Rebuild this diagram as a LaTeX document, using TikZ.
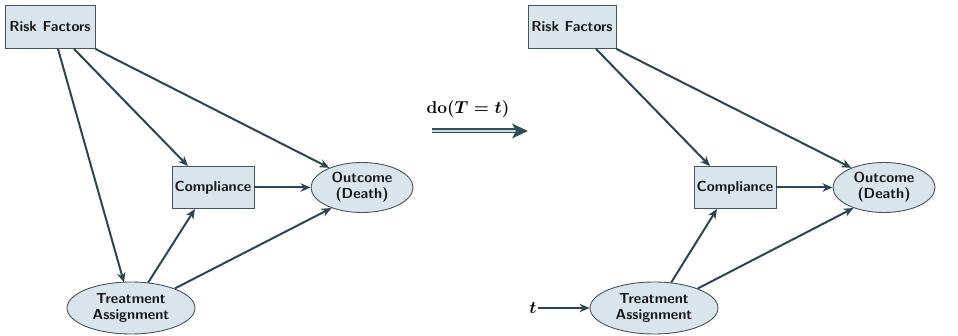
\documentclass[tikz,border=0pt]{standalone}
\usetikzlibrary{arrows.meta,shapes.geometric,calc}
\definecolor{nodefill}{HTML}{D9E4EB}
\definecolor{nodeedge}{HTML}{44555C}
\definecolor{arrowcol}{HTML}{2D4550}
\definecolor{dblcol}{HTML}{2F5058}
\begin{document}
\begin{tikzpicture}[x=1pt,y=-1pt,
  lbl/.style={font=\sffamily\bfseries\fontsize{14.5}{16}\selectfont, text=black!90},
  mathlbl/.style={font=\boldmath\fontsize{18}{20}\selectfont, inner sep=1pt},
  boxnode/.style={lbl, draw=nodeedge, fill=nodefill, line width=0.9pt, inner sep=0pt},
  ellnode/.style={lbl, ellipse, draw=nodeedge, fill=nodefill, line width=0.9pt, inner sep=0pt, align=center},
  conn/.style={draw=arrowcol, line width=2pt, -{Stealth[length=10pt,width=8.5pt]}}]
\useasboundingbox (0,0) rectangle (958,336);
% left diagram
\node[boxnode, minimum width=90, minimum height=43] (rf1) at (50,27) {Risk Factors};
\node[boxnode, minimum width=82, minimum height=42] (c1) at (213,187.5) {Compliance};
\node[ellnode, minimum width=102, minimum height=50] (o1) at (362,187.5) {Outcome\\(Death)};
\node[ellnode, minimum width=128, minimum height=52] (t1) at (131,308) {Treatment\\Assignment};
\draw[conn] ($(rf1.south)+(8,0)$) -- ($(t1.north)+(-7,1)$);
\draw[conn] ($(rf1.south)+(24,0)$) -- ($(c1.north)+(-25,0)$);
\draw[conn] (rf1.south east) -- (o1.149);
\draw[conn] (c1.east) -- (o1.west);
\draw[conn] (t1.56) -- ($(c1.south)+(-18,0)$);
\draw[conn] (t1.24) -- (o1.214);
% middle
\coordinate (m1) at (432,131);
\coordinate (m2) at (528,131);
\node[mathlbl] (dolbl) at (468,109) {$\mathrm{do}(T=t)$};
\draw[draw=dblcol, line width=1.6pt, double=white!80!dblcol, double distance=1.8pt]
  (m1) -- ($(m2)+(-10,0)$);
\fill[dblcol] (m2) -- ++(-16,-7.5) -- ++(4,7.5) -- ++(-4,7.5) -- cycle;
% right diagram
\node[boxnode, minimum width=88, minimum height=43] (rf2) at (572,27) {Risk Factors};
\node[boxnode, minimum width=82, minimum height=42] (c2) at (735,187.5) {Compliance};
\node[ellnode, minimum width=102, minimum height=50] (o2) at (884,187.5) {Outcome\\(Death)};
\node[ellnode, minimum width=128, minimum height=52] (t2) at (654,308) {Treatment\\Assignment};
\node[mathlbl] (tin) at (533,308) {$t$};
\draw[conn] ($(rf2.south)+(24,0)$) -- ($(c2.north)+(-25,0)$);
\draw[conn] (rf2.south east) -- (o2.149);
\draw[conn] (c2.east) -- (o2.west);
\draw[conn] (t2.56) -- ($(c2.south)+(-18,0)$);
\draw[conn] (t2.24) -- (o2.214);
\draw[conn] (tin.east) -- (t2.west);
\end{tikzpicture}
\end{document}
